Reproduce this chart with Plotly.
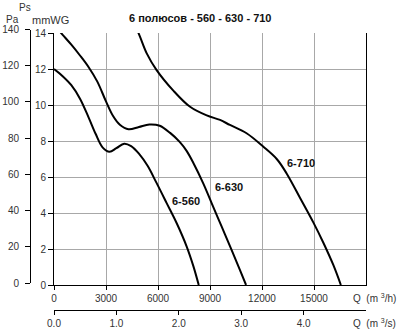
import plotly.graph_objects as go

# ---- data (Q in m3/h, Ps in mmWG) ----
q_560 = [0, 500, 1000, 1500, 2000, 2400, 2800, 3200, 3600, 4050, 4450, 4900, 5400, 5900, 6500, 7080, 7650, 8040, 8350]
p_560 = [12.0, 11.6, 11.1, 10.35, 9.3, 8.4, 7.65, 7.4, 7.6, 7.85, 7.72, 7.3, 6.62, 5.7, 4.55, 3.43, 2.15, 1.05, 0]

q_630 = [0, 500, 1000, 1500, 2000, 2500, 3000, 3400, 3800, 4300, 4900, 5500, 6100, 6700, 7250, 7650, 8040, 8610, 9100, 9675, 10250, 10730, 11080]
p_630 = [14.45, 13.9, 13.35, 12.75, 12.1, 11.3, 10.2, 9.4, 8.9, 8.65, 8.78, 8.92, 8.85, 8.45, 7.95, 7.45, 6.78, 5.65, 4.54, 3.24, 1.94, 0.83, 0]

q_710 = [4700, 4960, 5350, 5920, 6885, 7850, 8810, 9580, 10150, 11110, 12080, 12850, 13420, 14190, 14960, 15540, 16120, 16550]
p_710 = [14.4, 13.8, 12.87, 11.94, 10.8, 9.9, 9.42, 9.17, 8.89, 8.43, 7.68, 7.0, 6.2, 4.85, 3.48, 2.35, 1.1, 0]

x_ticks_h = [0, 3000, 6000, 9000, 12000, 15000]
x_ticks_s = [0, 1, 2, 3, 4]
y_ticks_mm = [0, 2, 4, 6, 8, 10, 12, 14]
y_ticks_pa = [0, 20, 40, 60, 80, 100, 120, 140]

labels = [("6-560", 6692, 4.68), ("6-630", 9173, 5.44), ("6-710", 13327, 6.78)]

W, H = 400, 332
FONT = "Liberation Sans, Arial, sans-serif"
TXT = "#333333"

def px(v):
    return v / W

def py(v):
    return 1 - v / H

xdom = [px(54), px(366)]
ydom = [py(285), py(33)]

fig = go.Figure()
for q, p in [(q_560, p_560), (q_630, p_630), (q_710, p_710)]:
    fig.add_trace(go.Scatter(x=q, y=p, mode="lines", line=dict(color="black", width=2, shape="spline", smoothing=1.0),
                             hoverinfo="skip", showlegend=False))

# invisible helpers for secondary axes
fig.add_trace(go.Scatter(x=[0, 5], y=[0, 0], xaxis="x2", yaxis="y", mode="lines",
                         line=dict(width=0), opacity=0, showlegend=False, hoverinfo="skip"))
fig.add_trace(go.Scatter(x=[0, 1], y=[0, 140], xaxis="x3", yaxis="y2", mode="lines",
                         line=dict(width=0), opacity=0, showlegend=False, hoverinfo="skip"))

tickfont = dict(family=FONT, size=10, color=TXT)

fig.update_layout(
    width=W, height=H,
    margin=dict(l=0, r=0, t=0, b=0, pad=0),
    paper_bgcolor="white", plot_bgcolor="rgba(0,0,0,0)",
    showlegend=False,
    xaxis=dict(domain=xdom, range=[0, 18000], tickvals=x_ticks_h, ticktext=[str(v) for v in x_ticks_h],
               showgrid=True, gridcolor="#a8a8a8", gridwidth=1,
               showline=True, linecolor="black", linewidth=1,
               ticks="outside", ticklen=4, tickcolor="black", tickfont=tickfont, zeroline=False,
               anchor="y", automargin=False),
    yaxis=dict(domain=ydom, range=[0, 14], tickvals=y_ticks_mm, ticktext=[str(v) for v in y_ticks_mm],
               showgrid=True, gridcolor="#a8a8a8", gridwidth=1,
               showline=True, linecolor="black", linewidth=1, mirror=True,
               ticks="outside", ticklen=5, tickcolor="black", tickfont=tickfont, zeroline=False,
               anchor="x", automargin=False),
    xaxis2=dict(domain=xdom, range=[0, 5], overlaying="x", anchor="free", position=py(310), side="bottom",
                tickvals=x_ticks_s, ticktext=["%.1f" % v for v in x_ticks_s],
                showgrid=False, showline=True, linecolor="black", linewidth=1,
                ticks="outside", ticklen=4, tickcolor="black", tickfont=tickfont, zeroline=False,
                automargin=False),
    xaxis3=dict(domain=xdom, range=[0, 1], anchor="y2", visible=False, showgrid=False, zeroline=False,
                automargin=False),
    yaxis2=dict(domain=[py(283), py(29.5)], range=[0, 140], anchor="free", position=px(30), side="left",
                tickvals=y_ticks_pa, ticktext=[str(v) for v in y_ticks_pa],
                showgrid=False, showline=True, linecolor="black", linewidth=1,
                ticks="outside", ticklen=5, tickcolor="black", tickfont=tickfont, zeroline=False,
                ticklabelstandoff=4, automargin=False),
)

ann = []
ann.append(dict(text="<b>6 полюсов - 560 - 630 - 710</b>", x=0.5, y=py(18), xref="paper", yref="paper",
                showarrow=False, xanchor="center", yanchor="middle", font=dict(family=FONT, size=11, color="#111")))
ann.append(dict(text="Ps", x=px(24.5), y=py(8), xref="paper", yref="paper", showarrow=False,
                xanchor="center", yanchor="middle", font=dict(family=FONT, size=10, color=TXT)))
ann.append(dict(text="Pa", x=px(12.5), y=py(20), xref="paper", yref="paper", showarrow=False,
                xanchor="center", yanchor="middle", font=dict(family=FONT, size=10, color=TXT)))
ann.append(dict(text="mmWG", x=px(50.5), y=py(20), xref="paper", yref="paper", showarrow=False,
                xanchor="center", yanchor="middle", font=dict(family=FONT, size=11, color=TXT)))
ann.append(dict(text="Q  (m <sup>3</sup>/h)", x=px(398), y=py(298), xref="paper", yref="paper", showarrow=False,
                xanchor="right", yanchor="middle", font=dict(family=FONT, size=10, color=TXT)))
ann.append(dict(text="Q  (m <sup>3</sup>/s)", x=px(398), y=py(323), xref="paper", yref="paper", showarrow=False,
                xanchor="right", yanchor="middle", font=dict(family=FONT, size=10, color=TXT)))
for t, qx, pv in labels:
    ann.append(dict(text="<b>%s</b>" % t, x=qx, y=pv, xref="x", yref="y", showarrow=False,
                    xanchor="left", yanchor="middle", font=dict(family=FONT, size=11, color="#111")))
fig.update_layout(annotations=ann)

fig.write_html("out.html")
